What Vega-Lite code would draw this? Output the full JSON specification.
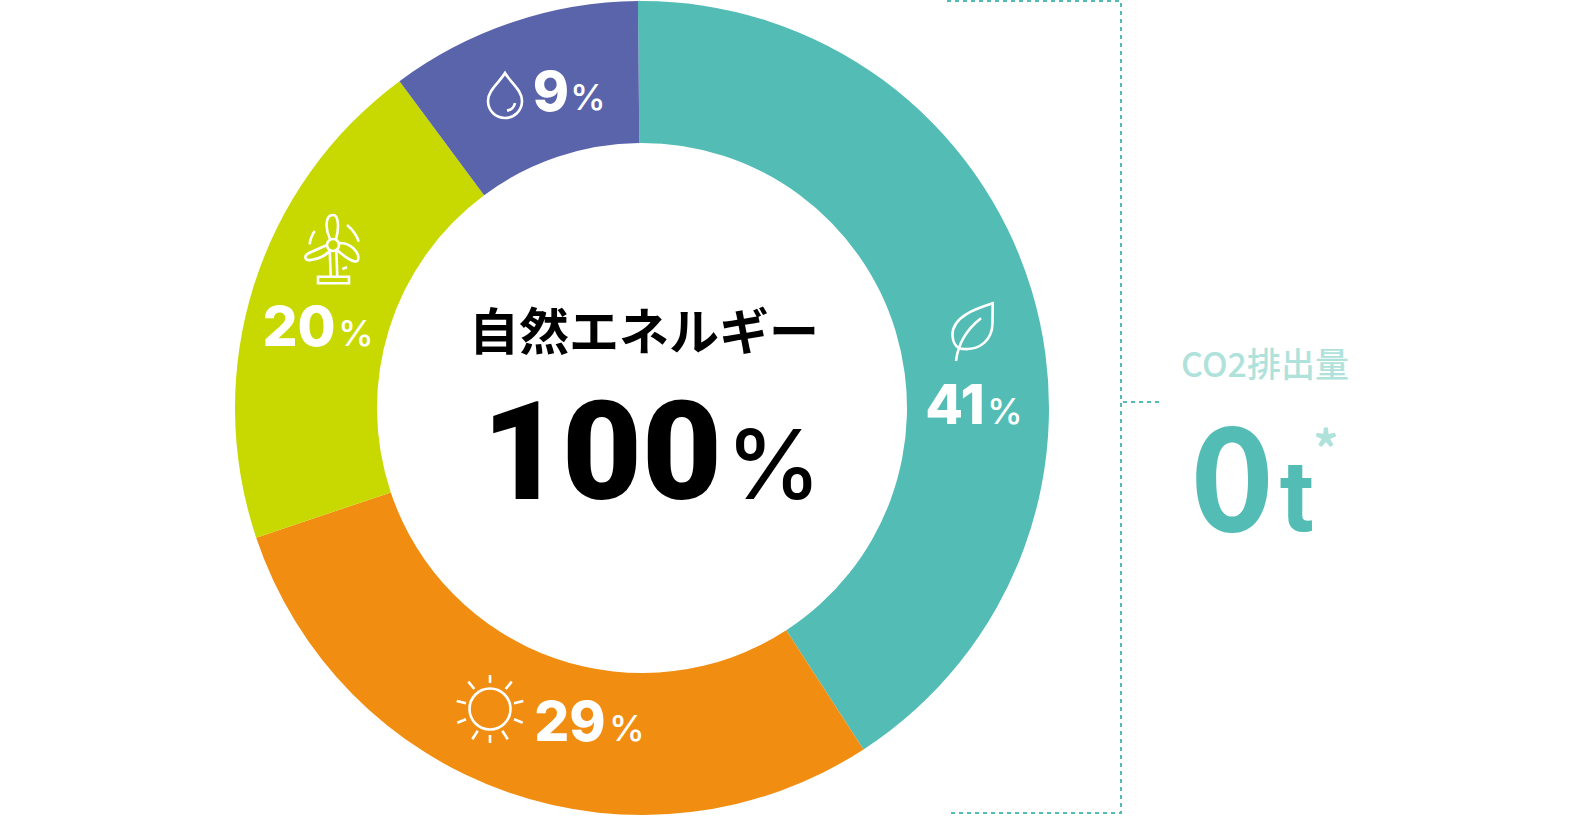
{
  "$schema": "https://vega.github.io/schema/vega-lite/v6.json",
  "width": 1584,
  "height": 816,
  "autosize": "none",
  "padding": 0,
  "background": "white",
  "view": {"stroke": null},
  "datasets": {
    "sources": [
      {"source": "バイオマス", "start": 0, "end": 41, "x": 642, "y": 408},
      {"source": "太陽光", "start": 41, "end": 70, "x": 642, "y": 408},
      {"source": "風力", "start": 70, "end": 90, "x": 642, "y": 408},
      {"source": "水力", "start": 90, "end": 100, "x": 642, "y": 408}
    ],
    "percents": [
      {"number": "41", "x": 955, "y": 424, "px": 987, "py": 424},
      {"number": "29", "x": 570, "y": 741, "px": 609, "py": 741},
      {"number": "20", "x": 299, "y": 346, "px": 338, "py": 346},
      {"number": "9", "x": 551, "y": 111, "px": 570, "py": 110}
    ],
    "icons": [
      {"icon": "leaf", "x": 972, "y": 332},
      {"icon": "sun", "x": 490, "y": 709},
      {"icon": "turbine", "x": 333, "y": 245},
      {"icon": "drop", "x": 505, "y": 98}
    ],
    "bracket": [
      {"part": "bracket", "step": 1, "x": 947, "y": 1},
      {"part": "bracket", "step": 2, "x": 1121, "y": 1},
      {"part": "bracket", "step": 3, "x": 1121, "y": 813},
      {"part": "bracket", "step": 4, "x": 947, "y": 813},
      {"part": "tick", "step": 1, "x": 1123, "y": 402},
      {"part": "tick", "step": 2, "x": 1163, "y": 402}
    ]
  },
  "encoding": {
    "x": {"field": "x", "type": "quantitative", "axis": null, "scale": {"domain": [0, 1584], "nice": false, "zero": false}},
    "y": {"field": "y", "type": "quantitative", "axis": null, "scale": {"domain": [0, 816], "nice": false, "zero": false, "reverse": true}}
  },
  "layer": [
    {
      "data": {"name": "sources"},
      "mark": {"type": "arc", "innerRadius": 265, "outerRadius": 407},
      "encoding": {
        "theta": {"field": "start", "type": "quantitative", "scale": {"domain": [0, 100], "range": [-0.01, 6.2732]}},
        "theta2": {"field": "end"},
        "color": {
          "field": "source",
          "type": "nominal",
          "legend": null,
          "scale": {
            "domain": ["バイオマス", "太陽光", "風力", "水力"],
            "range": ["#53bdb5", "#f18e12", "#c7d900", "#5964ab"]
          }
        }
      }
    },
    {
      "data": {"name": "bracket"},
      "mark": {"type": "line", "stroke": "#53bdb5", "strokeWidth": 2, "strokeDash": [4, 4]},
      "encoding": {
        "detail": {"field": "part"},
        "order": {"field": "step"}
      }
    },
    {
      "data": {"name": "icons"},
      "mark": {"type": "point", "filled": false, "stroke": "white", "strokeWidth": 2.6, "size": 4, "opacity": 1},
      "encoding": {
        "shape": {
          "field": "icon",
          "type": "nominal",
          "legend": null,
          "scale": {
            "domain": ["leaf", "sun", "turbine", "drop"],
            "range": [
              "M20.7,-28.7C6,-24,-20,-16,-19.5,3C-19,13,-14,17,-8,17C8,18,20,8,20.5,-8ZM-16,29C-14,12,-6,-2,9,-13.7",
              "M-20.5,0A20.5,20.5,0,1,1,20.5,0A20.5,20.5,0,1,1,-20.5,0ZM0,-34L0,-26M21.7,-27.3L15.7,-20M-21.7,-27.3L-15.7,-20M24,-5.7L33.3,-8M-24,-5.7L-33.3,-8M24,10.3L32.7,13.7M-24,10.3L-32.7,13.7M12.3,21.7L17.7,30.3M-12.3,21.7L-17.7,30.3M0,26L0,34",
              "M-6,0A6,6,0,1,1,6,0A6,6,0,1,1,-6,0ZM-3,-6C-8,-16,-8,-30,0,-30C6,-30,6,-16,3,-6M5,-2C18,-3,27,8,25,15C23,20,12,12,4,5M-6,0L-24,8C-30,11,-28,16,-22,15C-14,14,-6,10,-3,5M-3.3,5L-2.3,31.7M3.3,5L4.3,31.7M-15,31.7L16,31.7L16,38.3L-15,38.3ZM-18.3,-14C-21,-10,-23,-5,-23.3,-0.7M14,-20C20,-15,24,-9,25.7,-3.3M9.3,24L14,22.3",
              "M0,-25C-6,-15,-17,-8,-17,3C-17,13,-9,20,0,20C9,20,17,13,17,3C17,-8,6,-15,0,-25ZM10,5C9,10,6,12,2,12.5"
            ]
          }
        }
      }
    },
    {
      "data": {"name": "percents"},
      "mark": {"type": "text", "font": "Inter", "fontWeight": 800, "fontSize": 55, "color": "white", "align": "center", "baseline": "alphabetic"},
      "encoding": {"text": {"field": "number"}}
    },
    {
      "data": {"name": "percents"},
      "mark": {"type": "text", "font": "Inter", "fontWeight": 500, "fontSize": 36, "color": "white", "align": "left", "baseline": "alphabetic", "text": "%"},
      "encoding": {
        "x": {"field": "px", "type": "quantitative"},
        "y": {"field": "py", "type": "quantitative"}
      }
    },
    {
      "data": {"values": [{"label": "自然エネルギー", "x": 644, "y": 350}]},
      "mark": {"type": "text", "font": "Noto Sans CJK JP", "fontWeight": 700, "fontSize": 50, "color": "black", "align": "center", "baseline": "alphabetic"},
      "encoding": {"text": {"field": "label"}}
    },
    {
      "data": {"values": [{"label": "100", "x": 482, "y": 499}]},
      "mark": {"type": "text", "font": "Roboto", "fontWeight": 900, "fontSize": 138, "color": "black", "align": "left", "baseline": "alphabetic"},
      "encoding": {"text": {"field": "label"}}
    },
    {
      "data": {"values": [{"label": "%", "x": 726, "y": 499}]},
      "mark": {"type": "text", "font": "Inter", "fontWeight": 500, "fontSize": 96, "color": "black", "align": "left", "baseline": "alphabetic"},
      "encoding": {"text": {"field": "label"}}
    },
    {
      "data": {"values": [{"label": "CO2排出量", "x": 1265, "y": 377}]},
      "mark": {"type": "text", "font": "Noto Sans CJK JP", "fontWeight": 500, "fontSize": 34, "color": "#b0e2dc", "align": "center", "baseline": "alphabetic"},
      "encoding": {"text": {"field": "label"}}
    },
    {
      "data": {"values": [{"label": "0", "x": 1190, "y": 531}]},
      "mark": {"type": "text", "font": "Noto Sans CJK JP", "fontWeight": 700, "fontSize": 143, "color": "#53bdb5", "align": "left", "baseline": "alphabetic"},
      "encoding": {"text": {"field": "label"}}
    },
    {
      "data": {"values": [{"label": "t", "x": 1280, "y": 531}]},
      "mark": {"type": "text", "font": "Roboto", "fontWeight": 700, "fontSize": 100, "color": "#53bdb5", "align": "left", "baseline": "alphabetic"},
      "encoding": {"text": {"field": "label"}}
    },
    {
      "data": {"values": [{"label": "*", "x": 1326, "y": 468}]},
      "mark": {"type": "text", "font": "Noto Sans CJK JP", "fontWeight": 700, "fontSize": 50, "color": "#b0e2dc", "align": "center", "baseline": "alphabetic"},
      "encoding": {"text": {"field": "label"}}
    }
  ]
}
